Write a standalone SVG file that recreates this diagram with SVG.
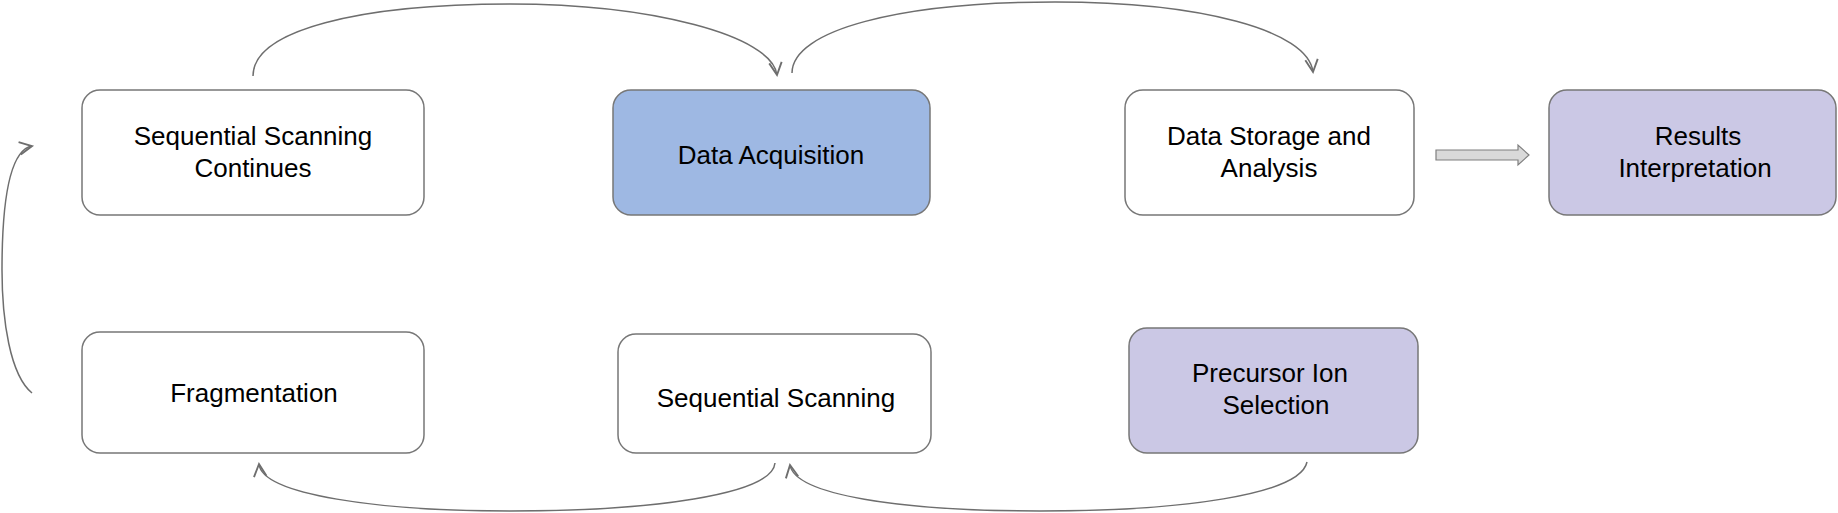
<svg xmlns="http://www.w3.org/2000/svg" width="1838" height="513" viewBox="0 0 1838 513">
<style>
.box{stroke:#777;stroke-width:1.5}
.w{fill:#fff}
.b{fill:#9eb8e3}
.p{fill:#cbc8e5}
text{font-family:"Liberation Sans",Arial,sans-serif;font-size:26px;fill:#000;text-anchor:middle}
.c{fill:none;stroke:#6e6e6e;stroke-width:1.5}
</style>
<defs>
<marker id="ah" markerUnits="userSpaceOnUse" markerWidth="20" markerHeight="20" refX="0" refY="0" viewBox="-12 -8 14 16" orient="auto">
<path d="M-10,-5 L0,0 L-10,5" fill="none" stroke="#6e6e6e" stroke-width="1.5" stroke-linejoin="miter"/>
</marker>
</defs>
<rect width="1838" height="513" fill="#fff"/>
<g id="connectors">
<path class="c" d="M253,76 C253,30 360,4 510,4 C650,4 772,35 777,75" marker-end="url(#ah)"/>
<path class="c" d="M792,73 C792,30 900,2 1055,2 C1200,2 1308,30 1313,72" marker-end="url(#ah)"/>
<path class="c" d="M775,463 C772,495 650,511 510,511 C380,511 262,495 259,464" marker-end="url(#ah)"/>
<path class="c" d="M1307,462 C1300,495 1180,511 1040,511 C900,511 795,495 790,465" marker-end="url(#ah)"/>
<path class="c" d="M32,393 C10,375 2,320 2,270 C2,200 10,150 32,146" marker-end="url(#ah)"/>
<polygon points="1436,150 1518,150 1518,145 1529,155 1518,165 1518,160 1436,160" fill="#d9d9d9" stroke="#7f7f7f" stroke-width="1.2"/>
</g>
<g id="n_continues">
<rect class="box w" x="82" y="90" width="342" height="125" rx="18"/>
<text x="253" y="145">Sequential Scanning</text>
<text x="253" y="177">Continues</text>
</g>
<g id="n_acq">
<rect class="box b" x="613" y="90" width="317" height="125" rx="18"/>
<text x="771" y="164">Data Acquisition</text>
</g>
<g id="n_storage">
<rect class="box w" x="1125" y="90" width="289" height="125" rx="18"/>
<text x="1269" y="145">Data Storage and</text>
<text x="1269" y="177">Analysis</text>
</g>
<g id="n_results">
<rect class="box p" x="1549" y="90" width="287" height="125" rx="18"/>
<text x="1698" y="145">Results</text>
<text x="1695" y="177">Interpretation</text>
</g>
<g id="n_frag">
<rect class="box w" x="82" y="332" width="342" height="121" rx="18"/>
<text x="254" y="402">Fragmentation</text>
</g>
<g id="n_seq">
<rect class="box w" x="618" y="334" width="313" height="119" rx="18"/>
<text x="776" y="407">Sequential Scanning</text>
</g>
<g id="n_precursor">
<rect class="box p" x="1129" y="328" width="289" height="125" rx="18"/>
<text x="1270" y="382">Precursor Ion</text>
<text x="1276" y="414">Selection</text>
</g>
</svg>
